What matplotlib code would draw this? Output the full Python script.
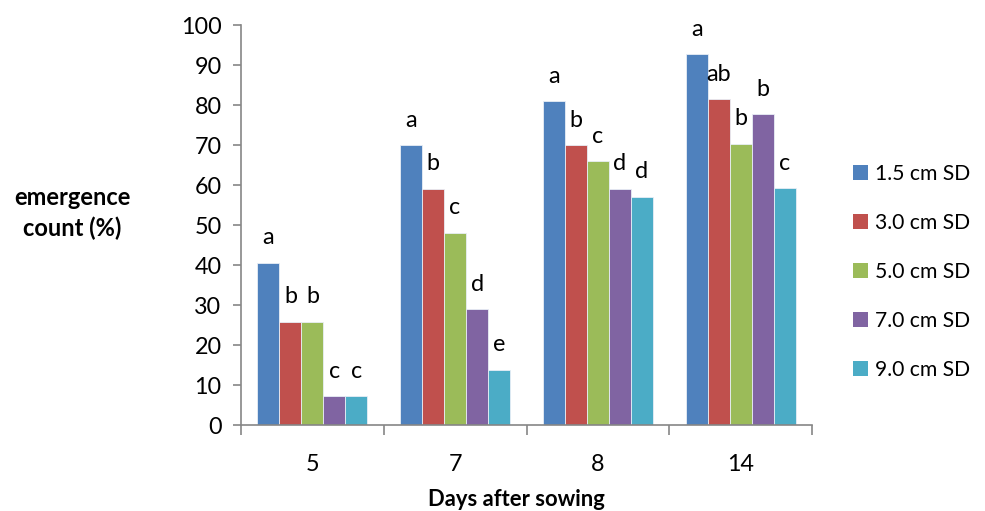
import matplotlib
matplotlib.use("Agg")
import matplotlib.pyplot as plt
import numpy as np
from matplotlib.patches import Patch

plt.rcParams['font.family'] = ['Lato', 'DejaVu Sans']

days = ["5", "7", "8", "14"]
series_names = ["1.5 cm SD", "3.0 cm SD", "5.0 cm SD", "7.0 cm SD", "9.0 cm SD"]
sd_15 = [40.6, 69.9, 80.9, 92.7]
sd_30 = [25.8, 59.0, 69.9, 81.4]
sd_50 = [25.8, 48.0, 65.9, 70.3]
sd_70 = [7.2, 28.9, 59.0, 77.7]
sd_90 = [7.2, 13.8, 57.0, 59.2]
letters_15 = ["a", "a", "a", "a"]
letters_30 = ["b", "b", "b", "ab"]
letters_50 = ["b", "c", "c", "b"]
letters_70 = ["c", "d", "d", "b"]
letters_90 = ["c", "e", "d", "c"]
colors = ["#4F81BD", "#C0504D", "#9BBB59", "#8064A2", "#4BACC6"]

values = [sd_15, sd_30, sd_50, sd_70, sd_90]
letters = [letters_15, letters_30, letters_50, letters_70, letters_90]

fig = plt.figure(figsize=(9.85, 5.11), dpi=100)
ax = fig.add_axes([241/985, 1-425/511, (812-241)/985, (425-25)/511])

x = np.arange(len(days))
w = 0.154
fs = 16.8
for i, (vals, lets, c) in enumerate(zip(values, letters, colors)):
    pos = x + (i - 2) * w
    ax.bar(pos, vals, width=w, color=c, edgecolor="#E8EEF6", linewidth=0.6)
    for p, v, l in zip(pos, vals, lets):
        ax.text(p, v + 6.3, l, ha="center", va="center", fontsize=fs, color="black")

ax.set_xlim(-0.5, 3.5)
ax.set_ylim(0, 100)
ax.set_yticks(np.arange(0, 101, 10))
ax.set_xticks(np.arange(-0.5, 3.6, 1.0))
ax.set_xticklabels([])
ax.set_xticks(x, minor=True)
ax.set_xticklabels(days, minor=True)
ax.tick_params(axis="x", which="major", length=7, width=1.2, color="#868686", direction="out")
ax.tick_params(axis="x", which="minor", length=0, pad=21, labelsize=fs)
ax.tick_params(axis="y", length=6, width=1.2, color="#868686", direction="out", labelsize=fs, pad=8)
for s in ["top", "right"]:
    ax.spines[s].set_visible(False)
for s in ["left", "bottom"]:
    ax.spines[s].set_color("#868686")
    ax.spines[s].set_linewidth(1.2)

fig.text(516/985, 1-500/511, "Days after sowing", ha="center", va="center", fontsize=15.8, fontweight="bold")
fig.text(72/985, 1-213/511, "emergence\ncount (%)", ha="center", va="center", fontsize=17,
         fontweight="bold", linespacing=1.35)

handles = [Patch(facecolor=c, edgecolor="none") for c in colors]
fig.legend(handles, series_names, loc="center left", bbox_to_anchor=(853/985, 1-272/511),
           frameon=False, fontsize=15.2, handlelength=0.7, handleheight=0.7,
           handletextpad=0.35, labelspacing=1.38, borderaxespad=0, borderpad=0)

fig.savefig("out.png", dpi=100)
